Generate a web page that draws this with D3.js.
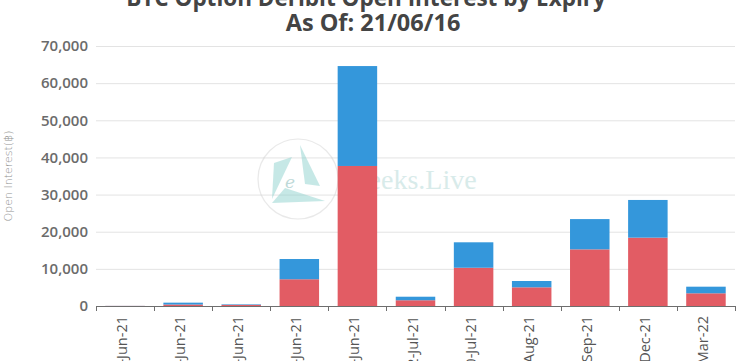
<!DOCTYPE html>
<html>
<head>
<meta charset="utf-8">
<script src="https://cdn.jsdelivr.net/npm/d3@7"></script>
<style>
  body { margin: 0; background: #fff; overflow: hidden; }
  svg { display: block; }
</style>
</head>
<body>
<svg id="chart"></svg>
<script>
var expiries = ['16-Jun-21', '17-Jun-21', '19-Jun-21', '18-Jun-21', '25-Jun-21',
                '2-Jul-21', '30-Jul-21', '27-Aug-21', '24-Sep-21', '31-Dec-21', '25-Mar-22'];
var callOI = [30, 400, 300, 7200, 37700, 1550, 10300, 5030, 15250, 18400, 3420];
var putOI  = [20, 500, 150, 5450, 26900, 950, 6850, 1700, 8150, 10150, 1780];
var yTicks = [0, 10000, 20000, 30000, 40000, 50000, 60000, 70000];
var titleLines = ['BTC Option Deribit Open Interest by Expiry', 'As Of: 21/06/16'];

var largura = 742, altura = 361;
var margem = { esquerda: 96, direita: 7, superior: 46, inferior: 55 };
var larguraPlotagem = largura - margem.esquerda - margem.direita;
var alturaPlotagem = altura - margem.superior - margem.inferior;

var svg = d3.select('#chart')
            .attr('width', largura)
            .attr('height', altura);

var dados = expiries.map((e, i) => ({ chave: e, call: callOI[i], put: putOI[i] }));
var pilha = d3.stack().keys(['call', 'put'])(dados);

var x = d3.scaleBand()
          .domain(expiries)
          .range([0, larguraPlotagem])
          .paddingInner(0.32)
          .paddingOuter(0.16);
var y = d3.scaleLinear()
          .domain([0, 70000])
          .range([alturaPlotagem, 0]);
var cores = d3.scaleOrdinal()
              .domain(['call', 'put'])
              .range(['#e25c64', '#3497db']);

// title
svg.selectAll('.titulo')
   .data(titleLines)
   .enter()
     .append('text')
     .classed('titulo', true)
     .attr('x', (d, i) => i ? 373 : 366)
     .attr('y', (d, i) => 6 + i * 25)
     .attr('text-anchor', 'middle')
     .style('font-family', 'Open Sans, sans-serif')
     .style('font-weight', 'bold')
     .style('font-size', (d, i) => i ? '23.5px' : '22.5px')
     .style('fill', '#444')
     .text(d => d);

var plotagem = svg.append('g')
                  .attr('transform', 'translate(' + margem.esquerda + ',' + margem.superior + ')');

// grid
plotagem.selectAll('.grade')
  .data(yTicks.slice(1))
  .enter()
    .append('line')
    .classed('grade', true)
    .attr('x1', 0)
    .attr('x2', larguraPlotagem)
    .attr('y1', d => y(d) + 0.5)
    .attr('y2', d => y(d) + 0.5)
    .attr('stroke', '#e3e3e3')
    .attr('stroke-width', 1);

// watermark
var marca = plotagem.append('g')
                    .attr('transform', 'translate(' + (298 - margem.esquerda) + ',' + (179 - margem.superior) + ')')
                    .style('opacity', 0.5);
marca.append('circle')
     .attr('r', 40)
     .attr('fill', 'none')
     .attr('stroke', '#d4d4d4')
     .attr('stroke-width', 1.2);
var velas = [
  [[-24, -16], [-6, -22], [-26, 20]],
  [[2, -34], [22, 7], [7, 5]],
  [[-13, 9], [27, 22], [-26, 24]]
];
marca.selectAll('path')
     .data(velas)
     .enter()
       .append('path')
       .attr('d', d => 'M' + d.join('L') + 'Z')
       .attr('fill', '#8fd3cf');
marca.append('text')
     .attr('x', -8)
     .attr('y', 9)
     .attr('text-anchor', 'middle')
     .style('font-family', 'DejaVu Serif, serif')
     .style('font-style', 'italic')
     .style('font-size', '17px')
     .style('fill', '#7fb5b3')
     .text('e');
marca.append('text')
     .attr('x', 41)
     .attr('y', 10)
     .style('font-family', 'Liberation Serif, serif')
     .style('font-size', '28px')
     .style('fill', '#b3d8d6')
     .text('Greeks.Live');

// bars
plotagem.selectAll('.serie')
  .data(pilha)
  .enter()
    .append('g')
    .classed('serie', true)
    .attr('fill', d => cores(d.key))
    .selectAll('rect')
    .data(d => d)
    .enter()
      .append('rect')
      .attr('x', d => x(d.data.chave))
      .attr('y', d => y(d[1]))
      .attr('width', x.bandwidth())
      .attr('height', d => y(d[0]) - y(d[1]));

// y axis labels
var eixoY = d3.axisLeft(y)
              .tickValues(yTicks)
              .tickSize(0)
              .tickPadding(8)
              .tickFormat(d3.format(','));
plotagem.append('g')
        .attr('id', 'eixoY')
        .call(eixoY)
        .call(g => g.select('.domain').remove())
        .selectAll('text')
        .style('font-family', 'Open Sans, sans-serif')
        .style('font-weight', '600')
        .style('font-size', '15px')
        .style('fill', '#6b6b6b');

// x axis
var eixoX = d3.axisBottom(x).tickSize(0).tickPadding(8);
var gx = plotagem.append('g')
                 .attr('id', 'eixoX')
                 .attr('transform', 'translate(0,' + alturaPlotagem + ')')
                 .call(eixoX);
gx.select('.domain')
  .attr('stroke', '#6e6e6e')
  .attr('d', 'M0.5,0.5H' + (larguraPlotagem + 0.5));
gx.selectAll('.tick text')
  .attr('transform', 'rotate(-90)')
  .attr('text-anchor', 'end')
  .attr('x', -10)
  .attr('y', -3)
  .attr('dy', '0.35em')
  .style('font-family', 'Open Sans, sans-serif')
  .style('font-size', '14.5px')
  .style('fill', '#555');

var passo = x.step();
gx.selectAll('.fronteira')
  .data(d3.range(expiries.length + 1))
  .enter()
    .append('line')
    .classed('fronteira', true)
    .attr('x1', i => Math.round(i * passo) + 0.5)
    .attr('x2', i => Math.round(i * passo) + 0.5)
    .attr('y1', 0)
    .attr('y2', 5)
    .attr('stroke', '#6e6e6e');

// y axis title
svg.append('text')
   .attr('transform', 'translate(12,176) rotate(-90)')
   .attr('text-anchor', 'middle')
   .style('font-family', 'DejaVu Sans, sans-serif')
   .style('font-weight', '300')
   .style('font-size', '11px')
   .style('fill', '#8f8f8f')
   .text('Open Interest(฿)');
</script>
</body>
</html>
